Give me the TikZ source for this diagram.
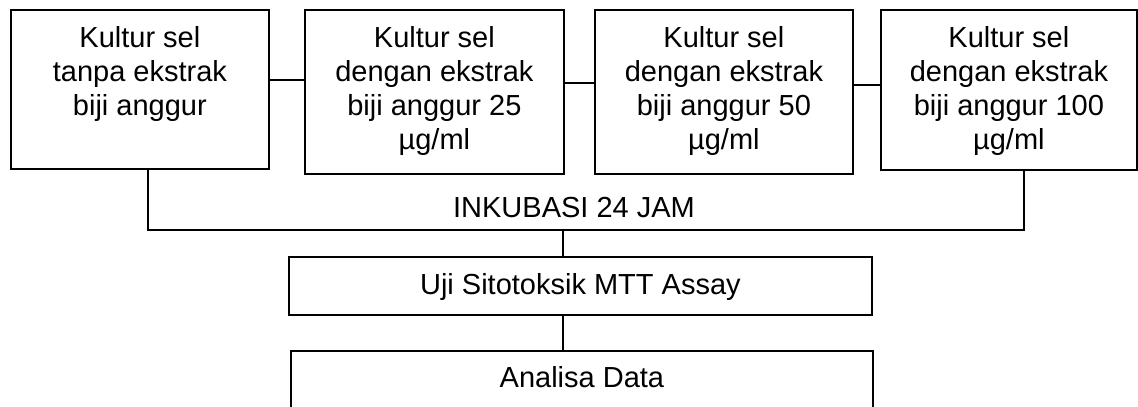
\documentclass[tikz,border=0pt]{standalone}
\usepackage{fontspec}
\setmainfont{Liberation Sans}
\newcommand{\kbtext}[4]{\parbox[c][#2][t]{#1}{\centering\fontsize{29}{34}\selectfont\rule{0pt}{#3}#4}}
\begin{document}
\begin{tikzpicture}[x=1pt,y=-1pt,
  kbox/.style={draw, line width=1.8pt, inner sep=0pt, anchor=north west},
  conn/.style={line width=1.8pt},
  plain/.style={inner sep=0pt, font=\fontsize{29}{34}\selectfont}]
\useasboundingbox (0,0) rectangle (1138,407);
\node[kbox] (b1) at (10,9) {\kbtext{258pt}{159pt}{38pt}{Kultur sel\\ tanpa ekstrak\\ biji anggur}};
\node[kbox] (b2) at (304,9) {\kbtext{259pt}{164pt}{38pt}{Kultur sel\\ dengan ekstrak\\ biji anggur 25\\ µg/ml}};
\node[kbox] (b3) at (594,9) {\kbtext{258pt}{164pt}{38pt}{Kultur sel\\ dengan ekstrak\\ biji anggur 50\\ µg/ml}};
\node[kbox] (b4) at (880,9) {\kbtext{256pt}{160pt}{38pt}{Kultur sel\\ dengan ekstrak\\ biji anggur 100\\ µg/ml}};
\node[plain, anchor=base] (ink) at (574,217) {INKUBASI 24 JAM};
\node[kbox] (uji) at (288,256) {\kbtext{583pt}{58pt}{38pt}{Uji Sitotoksik MTT Assay}};
\node[kbox] (ana) at (290,350) {\kbtext{582pt}{90pt}{37pt}{Analisa Data}};
\coordinate (jl) at (148,230);
\coordinate (jr) at (1024,230);
\coordinate (jm) at (563,230);
\draw[conn] (b1.east |- 0,80) -- (b2.west |- 0,80);
\draw[conn] (b2.east |- 0,83) -- (b3.west |- 0,83);
\draw[conn] (b3.east |- 0,85) -- (b4.west |- 0,85);
\draw[conn] (b1.south -| jl) -- (jl) -- (jr) -- (b4.south -| jr);
\draw[conn] (jm) -- (jm |- uji.north);
\draw[conn] (jm |- uji.south) -- (jm |- ana.north);
\end{tikzpicture}
\end{document}
